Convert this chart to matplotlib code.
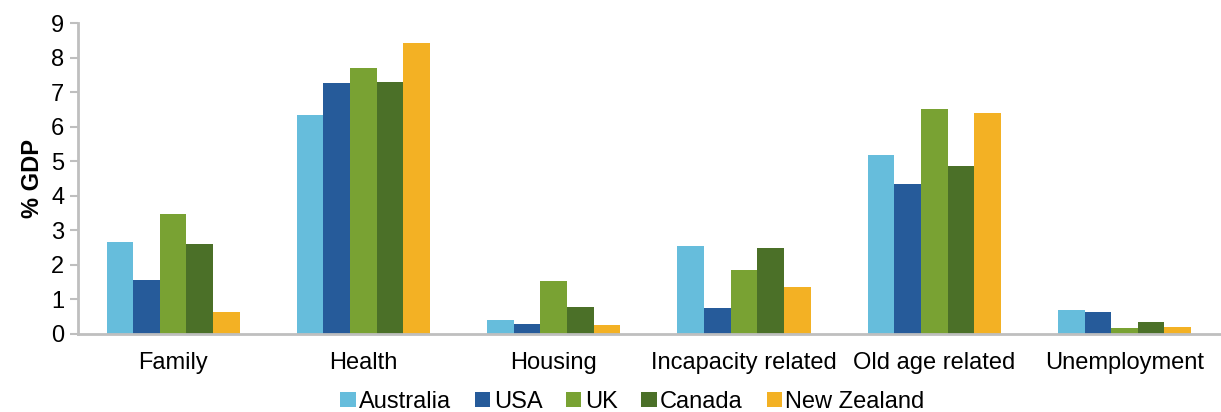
import matplotlib
matplotlib.use("Agg")
import matplotlib.pyplot as plt
import numpy as np
from matplotlib.patches import Patch

plt.rcParams['font.family'] = ['Liberation Sans', 'DejaVu Sans']

categories = ["Family", "Health", "Housing", "Incapacity related", "Old age related", "Unemployment"]
countries = ["Australia", "USA", "UK", "Canada", "New Zealand"]
australia = [2.66, 6.35, 0.39, 2.54, 5.18, 0.68]
usa = [1.55, 7.27, 0.28, 0.74, 4.34, 0.62]
uk = [3.47, 7.71, 1.52, 1.84, 6.52, 0.16]
canada = [2.60, 7.30, 0.77, 2.48, 4.86, 0.33]
new_zealand = [0.63, 8.43, 0.25, 1.35, 6.40, 0.19]
series = [australia, usa, uk, canada, new_zealand]
colors = ["#66BDDC", "#265B9A", "#79A233", "#4B7028", "#F3B124"]
yticks = [0, 1, 2, 3, 4, 5, 6, 7, 8, 9]

fig = plt.figure(figsize=(12.21, 4.12), dpi=100)
ax = fig.add_axes([0.0639, 0.1905, 0.935, 0.7525])

x = np.arange(len(categories))
w = 0.14
for i, (vals, c) in enumerate(zip(series, colors)):
    ax.bar(x + (i - 2) * w, vals, width=w, color=c, edgecolor="none", zorder=2)

ax.set_xlim(-0.5, len(categories) - 0.5)
ax.set_ylim(0, 9)
ax.set_yticks(yticks)
ax.set_yticklabels([str(t) for t in yticks], fontsize=17)
ax.set_xticks(x)
ax.set_xticklabels(categories, fontsize=17)
ax.tick_params(axis='x', length=0, pad=13)
ax.tick_params(axis='y', length=6, width=1.5, color="#BFBFBF", direction='out', pad=4)
for s in ["top", "right"]:
    ax.spines[s].set_visible(False)
for s in ["left", "bottom"]:
    ax.spines[s].set_color("#BFBFBF")
    ax.spines[s].set_linewidth(2)
ax.set_ylabel("% GDP", fontsize=17, fontweight='bold', labelpad=5)

handles = [Patch(facecolor=c, edgecolor="none") for c in colors]
fig.legend(handles, countries, loc='center', bbox_to_anchor=(0.518, 0.025), ncol=5,
           frameon=False, fontsize=17, handlelength=0.65, handleheight=0.65,
           handletextpad=0.15, columnspacing=1.0, borderaxespad=0)

fig.savefig("out.png", dpi=100)
